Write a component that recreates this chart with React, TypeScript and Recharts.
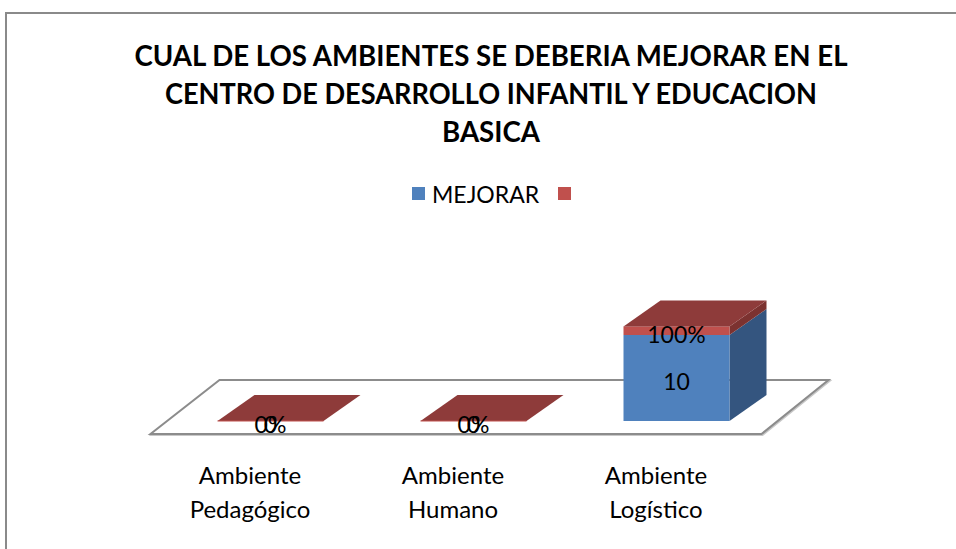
import React from 'react';
import { BarChart, Bar, XAxis, YAxis, ReferenceArea, LabelList } from 'recharts';

const categories = ['Ambiente Pedagógico', 'Ambiente Humano', 'Ambiente Logístico'];
const mejorarValues = [0, 0, 10];
const secondValues = [0, 0, 1];
const seriesNames = ['MEJORAR', ''];
const titleLines = [
  'CUAL DE LOS AMBIENTES SE DEBERIA MEJORAR EN EL',
  'CENTRO DE DESARROLLO INFANTIL Y EDUCACION',
  'BASICA',
];
const titleWidths = [713, 652, 98];

const data = categories.map((c, i) => ({ name: c, mejorar: mejorarValues[i], second: secondValues[i] }));

const FONT = 'Lato, "Open Sans", sans-serif';
const DX = 37;
const DY = -26;

const BlueShape = (p: any) => {
  const { x, y, width: w, height: h } = p;
  if (!h || h <= 0) return <g />;
  return (
    <g>
      <polygon
        points={`${x + w},${y + h} ${x + w + DX},${y + h + DY} ${x + w + DX},${y + DY} ${x + w},${y}`}
        fill="#34557f"
      />
      <rect x={x} y={y} width={w} height={h} fill="#4f81bd" />
    </g>
  );
};

const RedShape = (p: any) => {
  const { x, y, width: w, height: h } = p;
  const hh = Math.max(h || 0, 0);
  return (
    <g>
      {hh > 0 && (
        <polygon
          points={`${x + w},${y + hh} ${x + w + DX},${y + hh + DY} ${x + w + DX},${y + DY} ${x + w},${y}`}
          fill="#7c3230"
        />
      )}
      {hh > 0 && <rect x={x} y={y} width={w} height={hh} fill="#c0504d" />}
      <polygon
        points={`${x},${y} ${x + DX},${y + DY} ${x + w + DX},${y + DY} ${x + w},${y}`}
        fill="#8e3b3a"
      />
      {hh === 0 && <line x1={x} y1={y} x2={x + w} y2={y} stroke="#c0504d" strokeWidth={1} />}
    </g>
  );
};

const makeLabel = (fmt: (v: number) => string) => (p: any) => {
  const { x, y, width, height, value } = p;
  return (
    <text
      x={x + width / 2}
      y={y + height / 2 + 3}
      textAnchor="middle"
      dominantBaseline="central"
      fontSize={23}
      fontFamily={FONT}
      fill="#000"
    >
      {fmt(Number(value))}
    </text>
  );
};

const FloorShape = (p: any) => {
  const { x, y, width, height } = p;
  const base = y + height;
  const x0 = x;
  const x1 = x + width;
  const pts = `${x0 - 18},${base + 13} ${x1 - 16},${base + 13} ${x1 + 51},${base - 41} ${x0 + 51},${base - 41}`;
  const pts2 = `${x0 - 17},${base + 14} ${x1 - 15},${base + 14} ${x1 + 52},${base - 40} ${x0 + 52},${base - 40}`;
  return (
    <g>
      <polygon points={pts2} fill="none" stroke="#c8c8c8" strokeWidth={2} />
      <polygon points={pts} fill="#ffffff" stroke="#8c8c8c" strokeWidth={2} />
    </g>
  );
};

const Tick = (p: any) => {
  const { x, y, payload } = p;
  const lines = String(payload.value).split(' ');
  return (
    <g>
      {lines.map((l, i) => (
        <text
          key={i}
          x={x - 20}
          y={y + 53 + i * 34}
          textAnchor="middle"
          dominantBaseline="central"
          fontSize={24}
          fontFamily={FONT}
          fill="#000"
        >
          {l}
        </text>
      ))}
    </g>
  );
};

export default function App() {
  return (
    <div style={{ position: 'absolute', left: 0, top: 0, width: 956, height: 549, overflow: 'hidden', background: '#fff' }}>
      <div
        style={{
          position: 'absolute',
          left: 5,
          top: 12,
          width: 1000,
          height: 600,
          borderLeft: '2px solid #8a8a8a',
          borderTop: '2px solid #8a8a8a',
          boxSizing: 'border-box',
        }}
      />
      <div style={{ position: 'absolute', left: 0, top: 0 }}>
        <BarChart
          width={956}
          height={549}
          data={data}
          margin={{ top: 249, right: 178.5, bottom: 98, left: 168.5 }}
        >
          <XAxis
            dataKey="name"
            axisLine={false}
            tickLine={false}
            tickSize={0}
            tickMargin={0}
            height={30}
            interval={0}
            tick={<Tick />}
          />
          <YAxis hide domain={[0, 20]} />
          <ReferenceArea y1={0} y2={1} shape={<FloorShape />} />
          <Bar dataKey="mejorar" name={seriesNames[0]} stackId="s" barSize={106} shape={<BlueShape />} isAnimationActive={false}>
            <LabelList dataKey="mejorar" content={makeLabel((v) => String(v))} />
          </Bar>
          <Bar dataKey="second" name={seriesNames[1]} stackId="s" barSize={106} shape={<RedShape />} isAnimationActive={false}>
            <LabelList dataKey="second" content={makeLabel((v) => `${Math.round(v * 100)}%`)} />
          </Bar>
        </BarChart>
      </div>
      <svg width={956} height={549} style={{ position: 'absolute', left: 0, top: 0, pointerEvents: 'none' }}>
        {titleLines.map((t, i) => (
          <text
            key={i}
            x={491}
            y={55 + i * 38}
            textAnchor="middle"
            dominantBaseline="central"
            fontSize={28}
            fontWeight="bold"
            fontFamily={FONT}
            fill="#000"
            textLength={titleWidths[i]}
            lengthAdjust="spacingAndGlyphs"
          >
            {t}
          </text>
        ))}
        <rect x={412} y={187} width={13} height={13} fill="#4f81bd" />
        <text x={432} y={194} dominantBaseline="central" fontSize={23} fontFamily={FONT} fill="#000">
          {seriesNames[0]}
        </text>
        <rect x={558} y={187} width={13} height={13} fill="#c0504d" />
        <text x={576} y={194} dominantBaseline="central" fontSize={23} fontFamily={FONT} fill="#000">
          {seriesNames[1]}
        </text>
      </svg>
    </div>
  );
}
